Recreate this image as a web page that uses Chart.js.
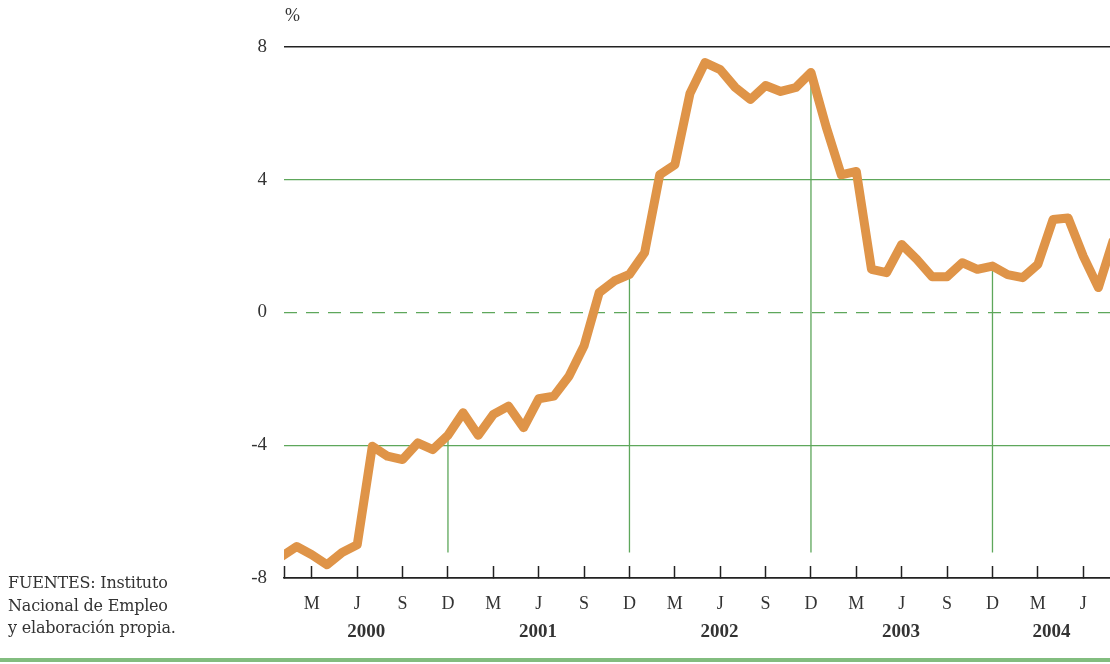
<!DOCTYPE html>
<html>
<head>
<meta charset="utf-8">
<script src="https://cdn.jsdelivr.net/npm/chart.js@4.4.1/dist/chart.umd.min.js"></script>
<style>
  html, body { margin: 0; padding: 0; background: #fff; }
  body { width: 1110px; height: 664px; position: relative; overflow: hidden; font-family: "Liberation Serif", "DejaVu Serif", serif; color: #333; }
  #chart { position: absolute; left: 0; top: 0; }
  .pct { position: absolute; left: 285px; top: 5px; font-size: 18px; }
  .fuentes { position: absolute; left: 8px; top: 572px; font-family: "DejaVu Serif", serif; font-size: 16px; line-height: 22.5px; letter-spacing: -0.2px; }
  .rule { position: absolute; left: 0; top: 658px; width: 1110px; height: 4px; background: #82bd7f; }
</style>
</head>
<body>
<canvas id="chart" width="1110" height="664"></canvas>
<div class="pct">%</div>
<div class="fuentes">FUENTES: Instituto<br>Nacional de Empleo<br>y elaboración propia.</div>
<div class="rule"></div>
<script>
// monthly series, January 2000 -> August 2004 (index = months since Jan 2000)
const tasaVariacion = [
    -7.35, -7.05, -7.3, -7.6, -7.23, -7.0, -4.03, -4.33, -4.43, -3.93, -4.13, -3.7,
    -3.02, -3.7, -3.07, -2.82, -3.47, -2.6, -2.52, -1.92, -1.0, 0.6, 0.95, 1.15,
    1.8, 4.15, 4.45, 6.6, 7.53, 7.32, 6.78, 6.42, 6.84, 6.66, 6.78, 7.23,
    5.6, 4.15, 4.25, 1.3, 1.2, 2.05, 1.6, 1.08, 1.08, 1.5, 1.3, 1.4,
    1.14, 1.05, 1.45, 2.8, 2.85, 1.7, 0.75, 2.2
];
const quarterLetters = ['M', 'J', 'S', 'D'];   // marzo, junio, septiembre, diciembre
const years = ['2000', '2001', '2002', '2003', '2004'];
const yearLabelPos = [5.6, 16.95, 28.95, 40.95, 50.9];
const yTicks = [-8, -4, 0, 4, 8];
const decemberIdx = [11, 23, 35, 47];
const dropBottom = -7.23;

const xMin = 0.16, xMax = 54.77;
const serif = '"Liberation Serif", "DejaVu Serif", serif';
const green = '#5ea75b';

// x ticks: left edge, each quarter month, and the year labels
const xTicks = [{ value: xMin, kind: 'edge', label: '' }];
for (let m = 2; m <= xMax; m += 3) {
    xTicks.push({ value: m, kind: 'month', label: quarterLetters[((m - 2) / 3) % 4] });
}
years.forEach((y, i) => xTicks.push({ value: yearLabelPos[i], kind: 'year', label: ['', y] }));
const tickByValue = {};
xTicks.forEach(t => { tickByValue[t.value] = t; });

const datasets = [{
    data: tasaVariacion.map((v, i) => ({ x: i, y: v })),
    borderColor: '#df9448',
    borderWidth: 9,
    borderJoinStyle: 'round',
    pointRadius: 0,
    tension: 0,
    order: 0
}];
decemberIdx.forEach(i => {
    datasets.push({
        data: [{ x: i, y: tasaVariacion[i] }, { x: i, y: dropBottom }],
        borderColor: green,
        borderWidth: 1.3,
        pointRadius: 0,
        order: 1
    });
});

const chart = new Chart(document.getElementById('chart').getContext('2d'), {
    type: 'line',
    data: { datasets: datasets },
    options: {
        responsive: false,
        animation: false,
        layout: { padding: { top: 47, right: 0, bottom: 0, left: 0 } },
        plugins: { legend: { display: false }, tooltip: { enabled: false } },
        scales: {
            x: {
                type: 'linear',
                min: xMin,
                max: xMax,
                afterFit: (scale) => { scale.height = 86; },
                afterBuildTicks: (scale) => {
                    scale.ticks = xTicks.map(t => ({ value: t.value }));
                },
                border: { display: true, color: '#222', width: 1.5 },
                grid: {
                    drawOnChartArea: false,
                    drawTicks: true,
                    tickLength: -12,
                    tickWidth: 1.5,
                    tickColor: (ctx) => {
                        const t = ctx.tick && tickByValue[ctx.tick.value];
                        return t && t.kind === 'year' ? 'rgba(0,0,0,0)' : '#222';
                    }
                },
                ticks: {
                    autoSkip: false,
                    maxRotation: 0,
                    padding: 24,
                    color: '#333',
                    font: (ctx) => {
                        const t = ctx.tick && tickByValue[ctx.tick.value];
                        const isYear = t && t.kind === 'year';
                        return {
                            family: serif,
                            size: isYear ? 19 : 18,
                            weight: isYear ? 'bold' : 'normal',
                            lineHeight: '28px'
                        };
                    },
                    callback: (value) => {
                        const t = tickByValue[value];
                        return t ? t.label : '';
                    }
                }
            },
            y: {
                min: -8,
                max: 8,
                afterFit: (scale) => { scale.width = 284; },
                afterBuildTicks: (scale) => {
                    scale.ticks = yTicks.map(v => ({ value: v }));
                },
                border: {
                    display: false,
                    dash: (ctx) => (ctx.tick && ctx.tick.value === 0) ? [13, 9] : []
                },
                grid: {
                    drawTicks: false,
                    color: (ctx) => (ctx.tick && Math.abs(ctx.tick.value) === 8) ? '#222' : green,
                    lineWidth: (ctx) => (ctx.tick && Math.abs(ctx.tick.value) === 8) ? 1.5 : 1.3
                },
                ticks: {
                    padding: 17,
                    color: '#333',
                    font: { family: serif, size: 19 }
                }
            }
        }
    }
});
</script>
</body>
</html>
